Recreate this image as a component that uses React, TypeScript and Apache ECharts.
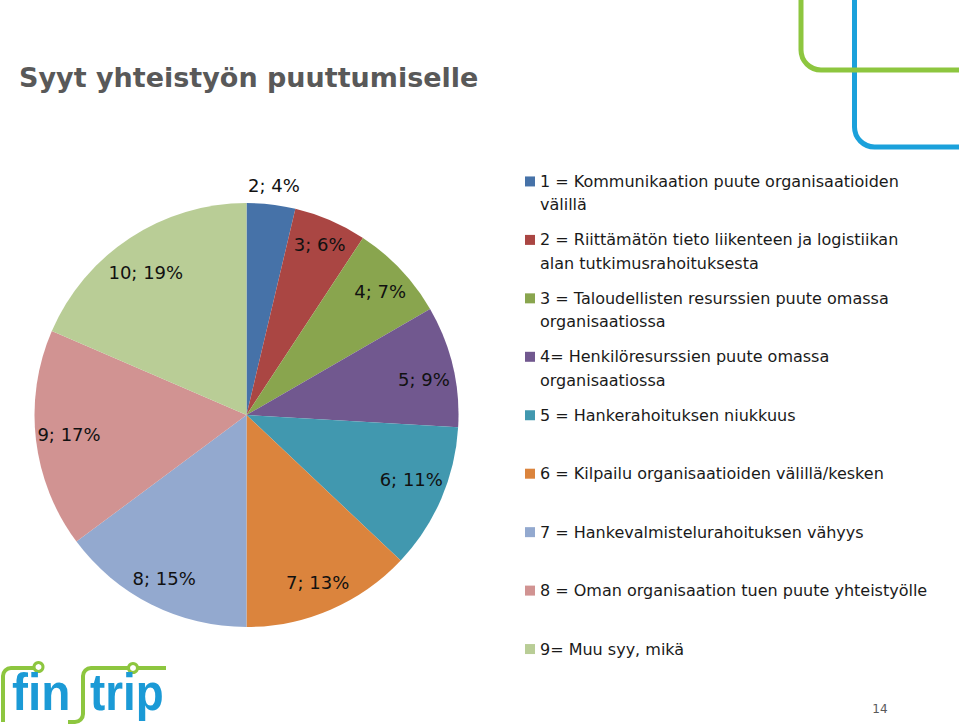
import React, { useEffect, useRef } from "react";
import * as echarts from "echarts";

const TITLE = "Syyt yhteistyön puuttumiselle";
const categories = [
  "1 = Kommunikaation puute organisaatioiden\nvälillä",
  "2 = Riittämätön tieto liikenteen ja logistiikan\nalan tutkimusrahoituksesta",
  "3 = Taloudellisten resurssien puute omassa\norganisaatiossa",
  "4= Henkilöresurssien puute omassa\norganisaatiossa",
  "5 = Hankerahoituksen niukkuus",
  "6 = Kilpailu organisaatioiden välillä/kesken",
  "7 = Hankevalmistelurahoituksen vähyys",
  "8 = Oman organisaation tuen puute yhteistyölle",
  "9= Muu syy, mikä",
];
const values = [2, 3, 4, 5, 6, 7, 8, 9, 10];
const colors = [
  "#4672A8",
  "#AA4643",
  "#89A54E",
  "#71588F",
  "#4198AF",
  "#DB843D",
  "#93A9CF",
  "#D19392",
  "#B9CD96",
];
const PAGE_NUMBER = "14";
const LOGO_PARTS = ["fin", "trip"];

// label shifts from the default inside position (layout only)
const labelShift: [number, number][] = [
  [14.7, -121.7],
  [30, -70.7],
  [54.4, -48.3],
  [71.4, -10.6],
  [64.7, 21],
  [28, 67.7],
  [-33.4, 66.3],
  [-69.2, 6.7],
  [-40.8, -51.4],
];

export default function App() {
  const ref = useRef<HTMLDivElement>(null);
  useEffect(() => {
    document.body.style.margin = "0";
    const chart = echarts.init(ref.current!, null, { renderer: "svg" });
    const total = values.reduce((a, b) => a + b, 0);

    echarts.graphic.registerShape(
      "decoGreen",
      echarts.graphic.extendPath("M801,0 L801,50 A20,20 0 0 0 821,70 L959,70", {})
    );
    echarts.graphic.registerShape(
      "decoBlue",
      echarts.graphic.extendPath("M854.5,0 L854.5,127 A20,20 0 0 0 874.5,147 L959,147", {})
    );
    echarts.graphic.registerShape(
      "logoLine",
      echarts.graphic.extendPath(
        "M3,722 L3,676 A8,8 0 0 1 11,668 L34,668 M68,722 L75,722 A8,8 0 0 0 83,714 L83,676 A8,8 0 0 1 91,668 L128.5,668 M137.5,668 L166,668",
        {}
      )
    );

    chart.setOption({
      animation: false,
      backgroundColor: "#ffffff",
      title: {
        text: TITLE,
        left: 19,
        top: 64,
        padding: 0,
        textStyle: {
          fontFamily: "DejaVu Sans",
          fontSize: 27,
          fontWeight: "bold",
          color: "#595959",
        },
      },
      legend: {
        orient: "vertical",
        left: 525,
        top: 146.5,
        padding: 0,
        itemWidth: 10,
        itemHeight: 10,
        itemGap: -11.45,
        icon: "rect",
        selectedMode: false,
        data: categories,
        formatter: (name: string) => {
          const lines = name.split("\n");
          return lines.length > 1 ? " \n" + name : " \n" + name + "\n ";
        },
        textStyle: {
          fontFamily: "DejaVu Sans",
          fontSize: 16,
          lineHeight: 23.3,
          color: "#1a1a1a",
        },
      },
      series: [
        {
          type: "pie",
          center: [246.5, 415],
          radius: 212,
          startAngle: 90,
          clockwise: true,
          avoidLabelOverlap: false,
          emphasis: { disabled: true },
          itemStyle: { borderWidth: 0 },
          label: {
            show: true,
            position: "inside",
            fontFamily: "DejaVu Sans",
            fontSize: 18,
            color: "#111111",
            formatter: (p: any) => `${p.value}; ${Math.round((p.value / total) * 100)}%`,
          },
          labelLine: { show: false },
          labelLayout: (p: any) => ({
            dx: labelShift[p.dataIndex][0],
            dy: labelShift[p.dataIndex][1],
          }),
          data: categories.map((name, i) => ({
            name,
            value: values[i],
            itemStyle: { color: colors[i] },
          })),
        },
      ],
      graphic: [
        {
          type: "decoBlue",
          x: 0,
          y: 0,
          style: { fill: "none", stroke: "#1BA1DB", lineWidth: 5 },
        },
        {
          type: "decoGreen",
          x: 0,
          y: 0,
          style: { fill: "none", stroke: "#8DC63F", lineWidth: 5 },
        },
        {
          type: "logoLine",
          x: 0,
          y: 0,
          style: { fill: "none", stroke: "#8DC63F", lineWidth: 4 },
        },
        {
          type: "circle",
          shape: { cx: 38.5, cy: 667, r: 4.5 },
          style: { fill: "#ffffff", stroke: "#8DC63F", lineWidth: 3 },
        },
        {
          type: "circle",
          shape: { cx: 133, cy: 668, r: 4.5 },
          style: { fill: "#ffffff", stroke: "#8DC63F", lineWidth: 3 },
        },
        {
          type: "text",
          x: 12,
          y: 692,
          scaleX: 0.92,
          style: {
            text: LOGO_PARTS[0],
            font: 'bold 52px "Liberation Sans"',
            fill: "#1B9AD6",
            verticalAlign: "middle",
          },
        },
        {
          type: "text",
          x: 90,
          y: 692,
          scaleX: 0.88,
          style: {
            text: LOGO_PARTS[1],
            font: 'bold 52px "Liberation Sans"',
            fill: "#1B9AD6",
            verticalAlign: "middle",
          },
        },
        {
          type: "text",
          x: 880,
          y: 709,
          style: {
            text: PAGE_NUMBER,
            font: '12px "DejaVu Sans"',
            fill: "#595959",
            align: "center",
            verticalAlign: "middle",
          },
        },
      ],
    });
    return () => chart.dispose();
  }, []);
  return <div ref={ref} style={{ width: 959, height: 725 }} />;
}
